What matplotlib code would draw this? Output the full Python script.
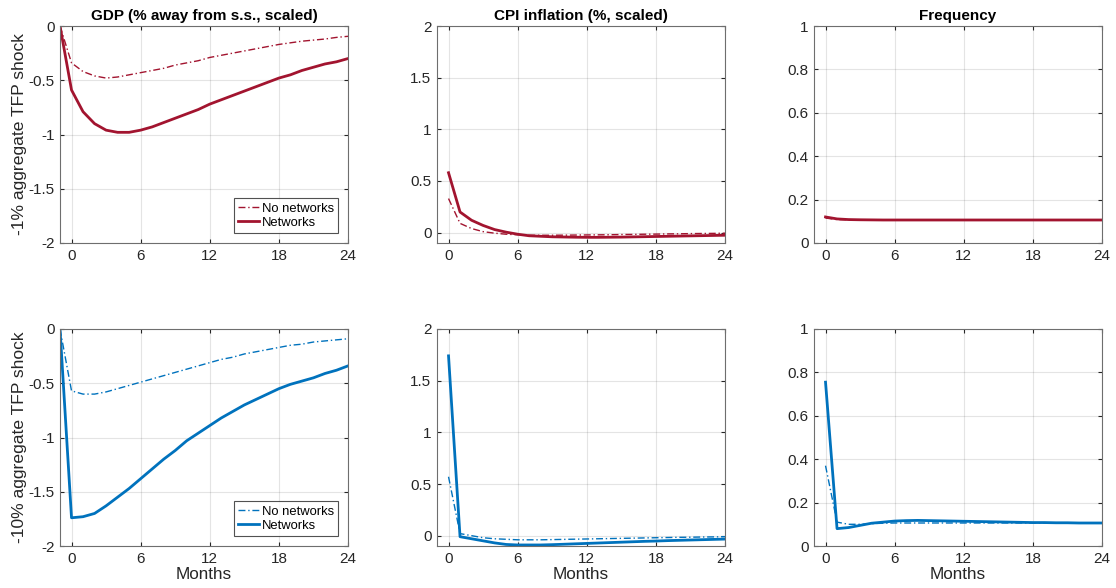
import numpy as np
import matplotlib
matplotlib.use('Agg')
import matplotlib.pyplot as plt

plt.rcParams['font.family'] = ['Liberation Sans', 'DejaVu Sans']

# months: GDP starts one period before the shock, others at the shock
months_gdp = list(range(-1, 25))
months = list(range(0, 25))

# top row: -1% shock
gdp_net_1 = [0, -0.59, -0.79, -0.90, -0.96, -0.98, -0.98, -0.96, -0.93, -0.89, -0.85,
             -0.81, -0.77, -0.72, -0.68, -0.64, -0.60, -0.56, -0.52, -0.48, -0.45,
             -0.41, -0.38, -0.35, -0.33, -0.30]
gdp_nonet_1 = [0, -0.34, -0.42, -0.46, -0.48, -0.47, -0.45, -0.43, -0.41, -0.39, -0.36,
               -0.34, -0.32, -0.29, -0.27, -0.25, -0.23, -0.21, -0.19, -0.17, -0.155,
               -0.14, -0.13, -0.12, -0.105, -0.095]
cpi_net_1 = [0.58, 0.20, 0.12, 0.07, 0.03, 0.005, -0.015, -0.03, -0.035, -0.04, -0.042,
             -0.044, -0.045, -0.045, -0.044, -0.043, -0.041, -0.039, -0.037, -0.035,
             -0.033, -0.031, -0.029, -0.027, -0.025]
cpi_nonet_1 = [0.33, 0.09, 0.04, 0.01, -0.005, -0.015, -0.02, -0.025, -0.025, -0.025,
               -0.024, -0.023, -0.022, -0.021, -0.02, -0.018, -0.017, -0.015, -0.014,
               -0.012, -0.011, -0.009, -0.008, -0.007, -0.005]
freq_net_1 = [0.12, 0.111, 0.108, 0.107, 0.1065, 0.106, 0.106, 0.106, 0.106, 0.106,
              0.106, 0.106, 0.106, 0.106, 0.106, 0.106, 0.106, 0.106, 0.106, 0.106,
              0.106, 0.106, 0.106, 0.106, 0.106]
freq_nonet_1 = [0.115, 0.108, 0.107, 0.106, 0.106, 0.106, 0.106, 0.106, 0.106, 0.106,
                0.106, 0.106, 0.106, 0.106, 0.106, 0.106, 0.106, 0.106, 0.106, 0.106,
                0.106, 0.106, 0.106, 0.106, 0.106]

# bottom row: -10% shock
gdp_net_10 = [0, -1.74, -1.73, -1.70, -1.63, -1.55, -1.47, -1.38, -1.29, -1.20, -1.12,
              -1.03, -0.96, -0.89, -0.82, -0.76, -0.70, -0.65, -0.60, -0.55, -0.51,
              -0.48, -0.45, -0.41, -0.38, -0.34]
gdp_nonet_10 = [0, -0.57, -0.60, -0.60, -0.58, -0.55, -0.52, -0.49, -0.46, -0.43, -0.40,
                -0.37, -0.34, -0.31, -0.28, -0.26, -0.23, -0.21, -0.19, -0.17, -0.15,
                -0.14, -0.12, -0.11, -0.10, -0.09]
cpi_net_10 = [1.74, -0.01, -0.03, -0.05, -0.07, -0.085, -0.09, -0.09, -0.09, -0.087,
              -0.083, -0.079, -0.075, -0.071, -0.067, -0.063, -0.059, -0.055, -0.052,
              -0.048, -0.045, -0.042, -0.039, -0.036, -0.033]
cpi_nonet_10 = [0.57, 0.02, 0.0, -0.02, -0.03, -0.035, -0.04, -0.04, -0.04, -0.038,
                -0.036, -0.034, -0.032, -0.03, -0.028, -0.026, -0.024, -0.022, -0.02,
                -0.018, -0.016, -0.015, -0.013, -0.012, -0.01]
freq_net_10 = [0.755, 0.08, 0.085, 0.095, 0.105, 0.11, 0.115, 0.117, 0.118, 0.117,
               0.116, 0.115, 0.114, 0.113, 0.112, 0.111, 0.110, 0.109, 0.108, 0.108,
               0.107, 0.107, 0.106, 0.106, 0.106]
freq_nonet_10 = [0.37, 0.11, 0.10, 0.10, 0.103, 0.105, 0.106, 0.106, 0.106, 0.106,
                 0.106, 0.106, 0.106, 0.106, 0.106, 0.106, 0.106, 0.106, 0.106, 0.106,
                 0.106, 0.106, 0.106, 0.106, 0.106]

titles = ['GDP (% away from s.s., scaled)', 'CPI inflation (%, scaled)', 'Frequency']
row_labels = ['-1% aggregate TFP shock', '-10% aggregate TFP shock']
red = '#A2142F'
blue = '#0072BD'

fig = plt.figure(figsize=(11.16, 5.88), dpi=100)
lefts = [60 / 1116, 437 / 1116, 814 / 1116]
width = 288 / 1116
bottoms = [1 - 243 / 588, 1 - 546 / 588]
height = 217 / 588

rows = [
    (red, [(months_gdp, gdp_nonet_1, gdp_net_1), (months, cpi_nonet_1, cpi_net_1),
           (months, freq_nonet_1, freq_net_1)]),
    (blue, [(months_gdp, gdp_nonet_10, gdp_net_10), (months, cpi_nonet_10, cpi_net_10),
            (months, freq_nonet_10, freq_net_10)]),
]
ylims = [(-2, 0), (-0.1, 2), (0, 1)]
yticks = [[-2, -1.5, -1, -0.5, 0], [0, 0.5, 1, 1.5, 2], [0, 0.2, 0.4, 0.6, 0.8, 1]]
ytl = [['-2', '-1.5', '-1', '-0.5', '0'], ['0', '0.5', '1', '1.5', '2'],
       ['0', '0.2', '0.4', '0.6', '0.8', '1']]

for r, (color, panels) in enumerate(rows):
    for c, (x, nonet, net) in enumerate(panels):
        ax = fig.add_axes([lefts[c], bottoms[r], width, height])
        ax.plot(x, nonet, color=color, lw=1.0, ls='-.', dashes=(5, 2, 1, 2), label='No networks')
        ax.plot(x, net, color=color, lw=2.0, label='Networks')
        ax.set_xlim(-1, 24)
        ax.set_ylim(*ylims[c])
        ax.set_xticks([0, 6, 12, 18, 24])
        ax.set_yticks(yticks[c])
        ax.set_yticklabels(ytl[c])
        ax.grid(True, color='#262626', alpha=0.12, lw=0.8)
        ax.tick_params(direction='in', top=True, right=True, length=3, width=0.8,
                       labelsize=11, colors='#262626', pad=4)
        for s in ax.spines.values():
            s.set_color('#6e6e6e')
            s.set_linewidth(0.8)
        if r == 0:
            ax.set_title(titles[c], fontsize=11, fontweight='bold', pad=4)
        else:
            ax.set_xlabel('Months', fontsize=12.3, color='#262626', labelpad=1)
        if c == 0:
            ax.set_ylabel(row_labels[r], fontsize=12.6, color='#262626', labelpad=1)
            leg = ax.legend(loc='lower right', fontsize=9.4, frameon=True, fancybox=False,
                            borderpad=0.3, handlelength=1.6, handletextpad=0.2,
                            labelspacing=0.15, borderaxespad=0.8)
            leg.get_frame().set_edgecolor('#262626')
            leg.get_frame().set_linewidth(0.8)

fig.savefig('out.png', dpi=100)
